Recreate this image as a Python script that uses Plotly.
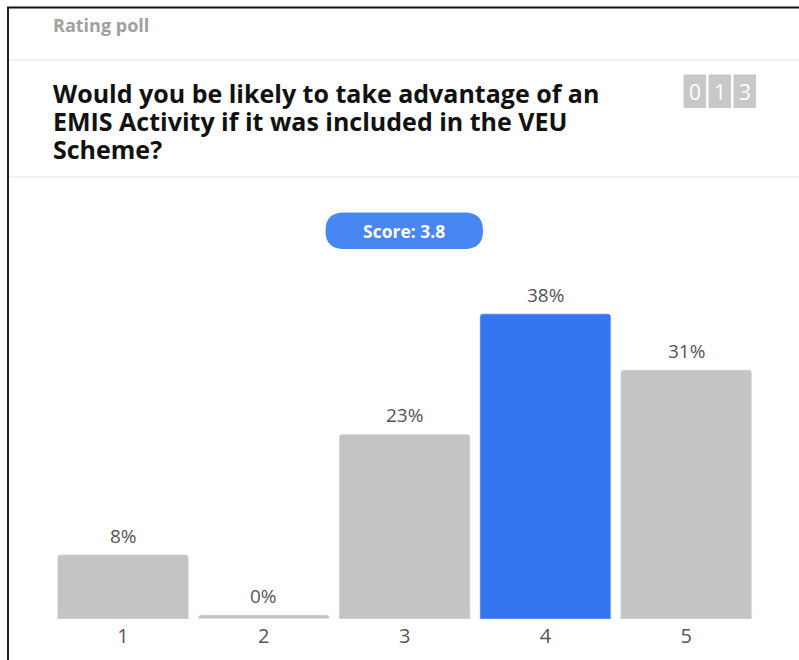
import plotly.graph_objects as go

# Poll data
categories = ["1", "2", "3", "4", "5"]
percentages = [8, 0, 23, 38, 31]
highlight = "4"
score = 3.8
response_count = "013"
poll_kind = "Rating poll"
question_lines = [
    "Would you be likely to take advantage of an",
    "EMIS Activity if it was included in the VEU",
    "Scheme?",
]

W, H = 799, 660
FONT = "Open Sans, Noto Sans, DejaVu Sans, sans-serif"
GREY_BAR = "#c4c4c4"
BLUE_BAR = "#3575f0"
PILL_BLUE = "#4786f3"


def fx(x):
    return x / W


def fy(y):
    return 1 - y / H


bar_colors = [BLUE_BAR if c == highlight else GREY_BAR for c in categories]

fig = go.Figure()
# thin floor so that empty categories still show a sliver
fig.add_trace(go.Bar(
    x=categories, y=[0.5] * len(categories),
    marker=dict(color=bar_colors, cornerradius=3),
    hoverinfo="skip", showlegend=False,
))
fig.add_trace(go.Bar(
    x=categories, y=percentages,
    marker=dict(color=bar_colors, cornerradius=3),
    showlegend=False,
))

# percentage labels above each bar (category axis positions are indices)
annotations = []
for i, v in enumerate(percentages):
    annotations.append(dict(
        x=i, y=max(v, 0.5), xref="x", yref="y",
        text=f"{v}%", showarrow=False, yanchor="bottom", yshift=4,
        font=dict(family=FONT, size=19, color="#555555"),
    ))

# header texts
annotations.append(dict(
    x=fx(51), y=fy(25), xref="paper", yref="paper", xanchor="left", yanchor="middle",
    text=f"<b>{poll_kind}</b>", showarrow=False,
    font=dict(family=FONT, size=18, color="#a0a0a0"),
))
# question: base size sets a 28px line pitch, inner spans carry the glyph size
question_html = "<br>".join(
    f'<span style="font-size:25px"><b>{line}</b></span>' for line in question_lines
)
annotations.append(dict(
    x=fx(51), y=fy(121), xref="paper", yref="paper",
    xanchor="left", yanchor="middle", align="left",
    text=question_html, showarrow=False,
    font=dict(family=FONT, size=21.54, color="#111111"),
))

shapes = []
# counter boxes
box_x = [683.5, 708.5, 733.5]
for bx, digit in zip(box_x, response_count):
    shapes.append(dict(
        type="rect", xref="paper", yref="paper",
        x0=fx(bx), x1=fx(bx + 22.5), y0=fy(108), y1=fy(74.5),
        fillcolor="#c8c8c8", line=dict(width=0), layer="below",
    ))
    annotations.append(dict(
        x=fx(bx + 11.25), y=fy(92), xref="paper", yref="paper",
        text=digit, showarrow=False, xanchor="center", yanchor="middle",
        font=dict(family=FONT, size=21, color="#ffffff"),
    ))

# score pill
px0, px1, py0, py1 = 325.5, 483, 212.5, 249
r = (py1 - py0) / 2
pill = (
    f"M {fx(px0 + r)} {fy(py0)} L {fx(px1 - r)} {fy(py0)} "
    f"Q {fx(px1)} {fy(py0)} {fx(px1)} {fy(py0 + r)} "
    f"Q {fx(px1)} {fy(py1)} {fx(px1 - r)} {fy(py1)} "
    f"L {fx(px0 + r)} {fy(py1)} "
    f"Q {fx(px0)} {fy(py1)} {fx(px0)} {fy(py0 + r)} "
    f"Q {fx(px0)} {fy(py0)} {fx(px0 + r)} {fy(py0)} Z"
)
shapes.append(dict(type="path", xref="paper", yref="paper", path=pill,
                   fillcolor=PILL_BLUE, line=dict(width=0), layer="below"))
annotations.append(dict(
    x=fx((px0 + px1) / 2), y=fy(231), xref="paper", yref="paper",
    text=f"<b>Score: {score}</b>", showarrow=False,
    font=dict(family=FONT, size=17.5, color="#ffffff"),
))

# separators
for sy in (60, 177):
    shapes.append(dict(type="line", xref="paper", yref="paper",
                       x0=fx(9), x1=1, y0=fy(sy), y1=fy(sy),
                       line=dict(color="#e4ecf5", width=1.5)))
# outer frame (top and left edges)
shapes.append(dict(type="line", xref="paper", yref="paper",
                   x0=fx(7), x1=1, y0=fy(7.5), y1=fy(7.5),
                   line=dict(color="#111111", width=2)))
shapes.append(dict(type="line", xref="paper", yref="paper",
                   x0=fx(8), x1=fx(8), y0=fy(7), y1=0,
                   line=dict(color="#222222", width=2)))

y_max = 45
baseline_px = 619
px_per_pct = 8.03
top_px = baseline_px - y_max * px_per_pct

fig.update_layout(
    width=W, height=H,
    margin=dict(l=0, r=0, t=0, b=0),
    paper_bgcolor="#ffffff", plot_bgcolor="#ffffff",
    barmode="overlay", bargap=0.07,
    xaxis=dict(
        type="category", range=[-0.5, len(categories) - 0.5],
        domain=[fx(52.6), fx(756.6)], showgrid=False, zeroline=False,
        showline=False, ticks="", fixedrange=True, ticklabelstandoff=3,
        tickfont=dict(family=FONT, size=20, color="#555555"),
    ),
    yaxis=dict(
        domain=[fy(baseline_px), fy(top_px)], range=[0, y_max],
        showgrid=False, zeroline=False, showticklabels=False, showline=False,
        fixedrange=True,
    ),
    annotations=annotations,
    shapes=shapes,
)

fig.write_html("out.html")
